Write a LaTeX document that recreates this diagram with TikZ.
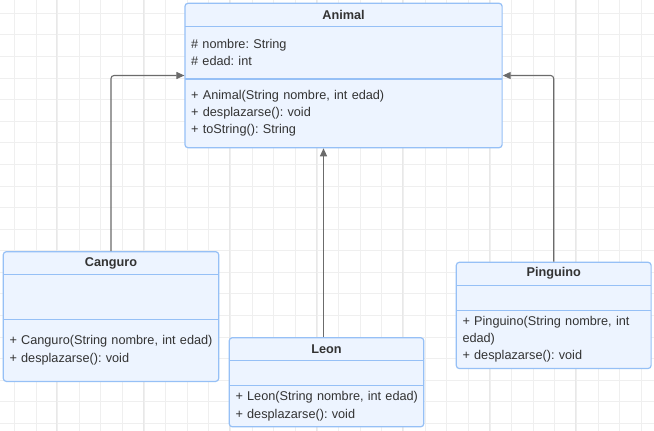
\documentclass[tikz,border=0pt]{standalone}
\usepackage{fontspec}
\setmainfont{Liberation Sans}
\usetikzlibrary{positioning,fit,arrows.meta,backgrounds}
\definecolor{umlfill}{HTML}{EDF4FF}
\definecolor{umlline}{HTML}{96C0F6}
\definecolor{umltext}{HTML}{333333}
\definecolor{linkgray}{HTML}{6B6B6B}
\definecolor{gridgray}{HTML}{EFEFEF}
\definecolor{gridmajor}{HTML}{E8E8E8}
\frenchspacing
\tikzset{
x=1pt, y=-1pt, % one unit is one pixel of the page
>={Triangle[length=8pt,width=7pt]}, % filled heads for inheritance
every node/.style={font=\fontsize{12.7}{17.3}\selectfont, text=umltext},
classname/.style={font=\fontsize{12.7}{17.3}\selectfont\bfseries, minimum height=22.5pt, inner sep=0pt, anchor=north west},
classpart/.style={align=left, inner xsep=6pt, inner ysep=0pt},
classbox/.style={draw=umlline, fill=umlfill, line width=1.2pt, rounded corners=3pt, inner sep=0pt},
divider/.style={draw=umlline, line width=1.2pt},
inherit/.style={->, draw=linkgray, line width=1.1pt, rounded corners=3pt},
gridline/.style={draw=gridgray, line width=0.8pt},
gridbold/.style={draw=gridmajor, line width=0.8pt},
}

\begin{document}
\begin{tikzpicture}
\useasboundingbox (0,0) rectangle (654,431);
\begin{scope}[on background layer]
\fill[white] (0,0) rectangle (654,431);
\foreach \k in {0,...,29} \draw[gridline] ({14.3+21.62*\k},0) -- ++(0,431);
\foreach \k in {0,...,19} \draw[gridline] (0,{13.3+21.58*\k}) -- ++(654,0);
\foreach \k in {0,...,6} \draw[gridbold] ({56.7+86.5*\k},0) -- ++(0,431);
\end{scope}

% Animal
\node[classname, minimum width=316.7pt] (animal) at (185,3.3) {Animal};
\node[classpart, text width=304.7pt, minimum height=52.3pt, below=0pt of animal] (animalattr) {\# nombre: String\\\# edad: int};
\node[classpart, text width=304.7pt, minimum height=68.4pt, below=0pt of animalattr] (animalmeth) {\mbox{+ Animal(String nombre, int edad)}\\+ desplazarse(): void\\+ toString(): String};

% Canguro
\node[classname, minimum width=215pt, minimum height=22.2pt] (canguro) at (3.3,251.7) {Canguro};
\node[classpart, text width=203pt, minimum height=44.6pt, below=0pt of canguro] (canguroattr) {};
\node[classpart, text width=203pt, minimum height=61.7pt, below=0pt of canguroattr] (cangurometh) {\mbox{+ Canguro(String nombre, int edad)}\\+ desplazarse(): void};

% Leon
\node[classname, minimum width=194pt, minimum height=22.3pt] (leon) at (229.3,337.7) {Leon};
\node[classpart, text width=182pt, minimum height=24.9pt, below=0pt of leon] (leonattr) {};
\node[classpart, text width=182pt, minimum height=40.7pt, below=0pt of leonattr] (leonmeth) {\mbox{+ Leon(String nombre, int edad)}\\+ desplazarse(): void};

% Pinguino
\node[classname, minimum width=194.4pt, minimum height=22.4pt] (pinguino) at (456.3,262.3) {Pinguino};
\node[classpart, text width=182.4pt, minimum height=24.6pt, below=0pt of pinguino] (pinguinoattr) {};
\node[classpart, text width=182.4pt, minimum height=58pt, below=0pt of pinguinoattr] (pinguinometh) {\mbox{+ Pinguino(String nombre, int}\\edad)\\+ desplazarse(): void};

\begin{scope}[on background layer]
\node[classbox, fit=(animal)(animalmeth)] (animalbox) {};
\node[classbox, fit=(canguro)(cangurometh)] (cangurobox) {};
\node[classbox, fit=(leon)(leonmeth)] (leonbox) {};
\node[classbox, fit=(pinguino)(pinguinometh)] (pinguinobox) {};
\end{scope}

\draw[divider] (animal.south west) -- (animal.south east);
\draw[divider] (animalattr.south west) -- (animalattr.south east);
\draw[divider] (canguro.south west) -- (canguro.south east);
\draw[divider] (canguroattr.south west) -- (canguroattr.south east);
\draw[divider] (leon.south west) -- (leon.south east);
\draw[divider] (leonattr.south west) -- (leonattr.south east);
\draw[divider] (pinguino.south west) -- (pinguino.south east);
\draw[divider] (pinguinoattr.south west) -- (pinguinoattr.south east);

% inheritance
\coordinate (leontop) at ([xshift=-3pt]leonbox.north);
\draw[inherit] (cangurobox.north) |- (animalbox.west);
\draw[inherit] (pinguinobox.north) |- (animalbox.east);
\draw[inherit] (leontop) -- (leontop |- animalbox.south);
\end{tikzpicture}
\end{document}
